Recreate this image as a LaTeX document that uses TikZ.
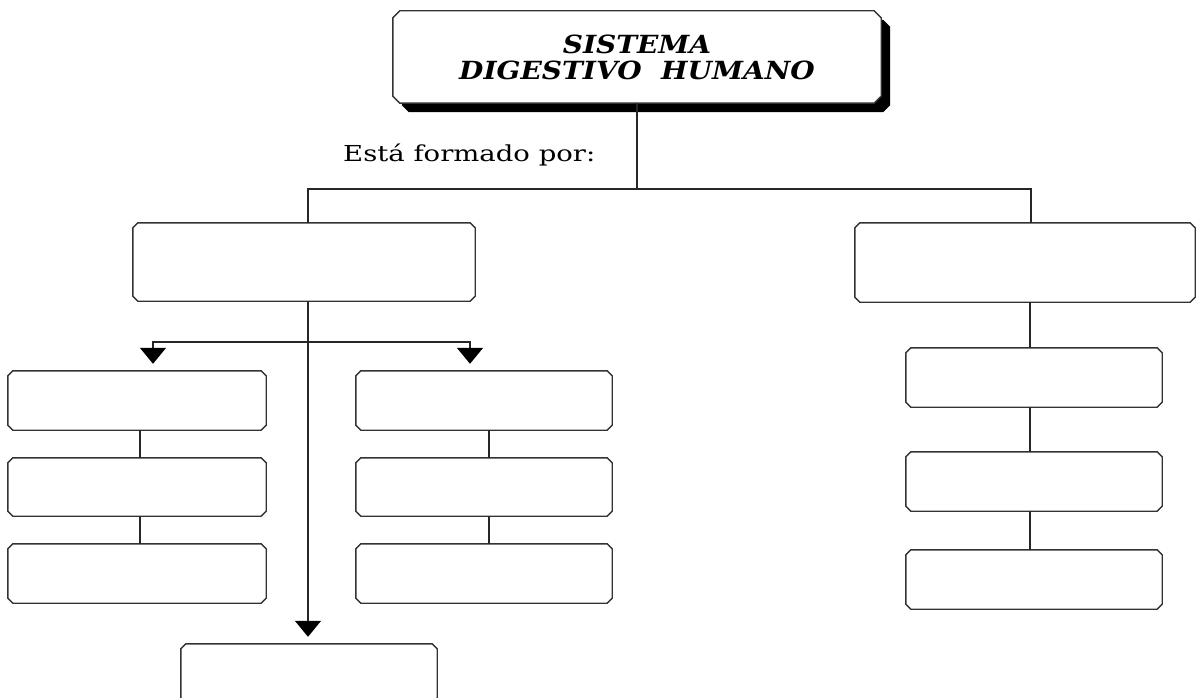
\documentclass[tikz,border=0pt]{standalone}
\usepackage{fontspec}
\usepackage{graphicx}
\setmainfont{DejaVu Serif}
\usetikzlibrary{arrows.meta}
\newcommand\chpath[3]{% node name, chamfer, options
  \path[#3] ([xshift=#2]#1.north west) -- ([xshift=-#2]#1.north east) -- ([yshift=-#2]#1.north east)
    -- ([yshift=#2]#1.south east) -- ([xshift=-#2]#1.south east) -- ([xshift=#2]#1.south west)
    -- ([yshift=#2]#1.south west) -- ([yshift=-#2]#1.north west) -- cycle;}
\begin{document}
\begin{tikzpicture}[x=1pt,y=-1pt,
  box/.style={rectangle, inner sep=0pt, minimum width=#1},
  box/.default=256pt,
  boxline/.style={draw=black!80, line width=1.4pt, fill=white},
  conn/.style={draw=black!85, line width=1.4pt},
  tip/.style={-{Triangle[length=16pt,width=26pt,color=black]}, shorten >=7pt},
  titlefont/.style={font=\fontsize{25}{26}\selectfont\bfseries\itshape}
]
\useasboundingbox (0,0) rectangle (1197,698);

% title with shadow
\node[rectangle, inner sep=0pt, minimum width=488pt, minimum height=92pt] (tshadow) at (646,66) {};
\chpath{tshadow}{7pt}{fill=black}
\node[rectangle, inner sep=0pt, minimum width=488pt, minimum height=92pt] (title) at (637,57) {};
\chpath{title}{7pt}{boxline}
\node[align=center, titlefont, inner sep=0pt] (ttext) at (637,57)
  {\scalebox{1.12}[1]{SISTEMA}\\ \scalebox{1.12}[1]{DIGESTIVO\hspace{0.35em} HUMANO}};

% level 1
\node[box=342pt, minimum height=78pt] (l1) at (304,262) {};
\node[box=340pt, minimum height=79pt] (r1) at (1025,262.5) {};

% left column
\node[box=258pt, minimum height=59pt] (a1) at (137,400.5) {};
\node[box=258pt, minimum height=58pt] (a2) at (137,487) {};
\node[box=258pt, minimum height=59pt] (a3) at (137,573.5) {};
% middle column
\node[box=256pt, minimum height=59pt] (b1) at (484,400.5) {};
\node[box=256pt, minimum height=58pt] (b2) at (484,487) {};
\node[box=256pt, minimum height=59pt] (b3) at (484,573.5) {};
% right column
\node[box=256pt, minimum height=59pt] (c1) at (1034,377.5) {};
\node[box=256pt, minimum height=59pt] (c2) at (1034,481.5) {};
\node[box=256pt, minimum height=59pt] (c3) at (1034,579.5) {};
% bottom box
\node[box=256pt, minimum height=59pt] (bot) at (309,673.5) {};

\foreach \n in {l1,r1,a1,a2,a3,b1,b2,b3,c1,c2,c3,bot} {\chpath{\n}{5pt}{boxline}}

% label
\node[anchor=base west, inner sep=0pt, font=\fontsize{22}{24}\selectfont] (lab) at (343,161)
  {\scalebox{1.25}[1]{Está formado por:}};

% connectors
\coordinate (jt) at (637,189);
\coordinate (jl) at (308,342);
\path[conn] (title.south) -- (jt);
\path[conn] (jt) -| ([xshift=4pt]l1.north);
\path[conn] (jt) -| ([xshift=6pt]r1.north);

\path[conn, tip] ([xshift=4pt]l1.south) -- ([xshift=-1pt]bot.north);
\path[conn, tip] (jl) -| ([xshift=16pt]a1.north);
\path[conn, tip] (jl) -| ([xshift=-14pt]b1.north);

\path[conn] ([xshift=3pt]a1.south) -- ([xshift=3pt]a2.north);
\path[conn] ([xshift=3pt]a2.south) -- ([xshift=3pt]a3.north);
\path[conn] ([xshift=5pt]b1.south) -- ([xshift=5pt]b2.north);
\path[conn] ([xshift=5pt]b2.south) -- ([xshift=5pt]b3.north);
\path[conn] ([xshift=5pt]r1.south) -- ([xshift=-4pt]c1.north);
\path[conn] ([xshift=-4pt]c1.south) -- ([xshift=-4pt]c2.north);
\path[conn] ([xshift=-4pt]c2.south) -- ([xshift=-4pt]c3.north);
\end{tikzpicture}
\end{document}
